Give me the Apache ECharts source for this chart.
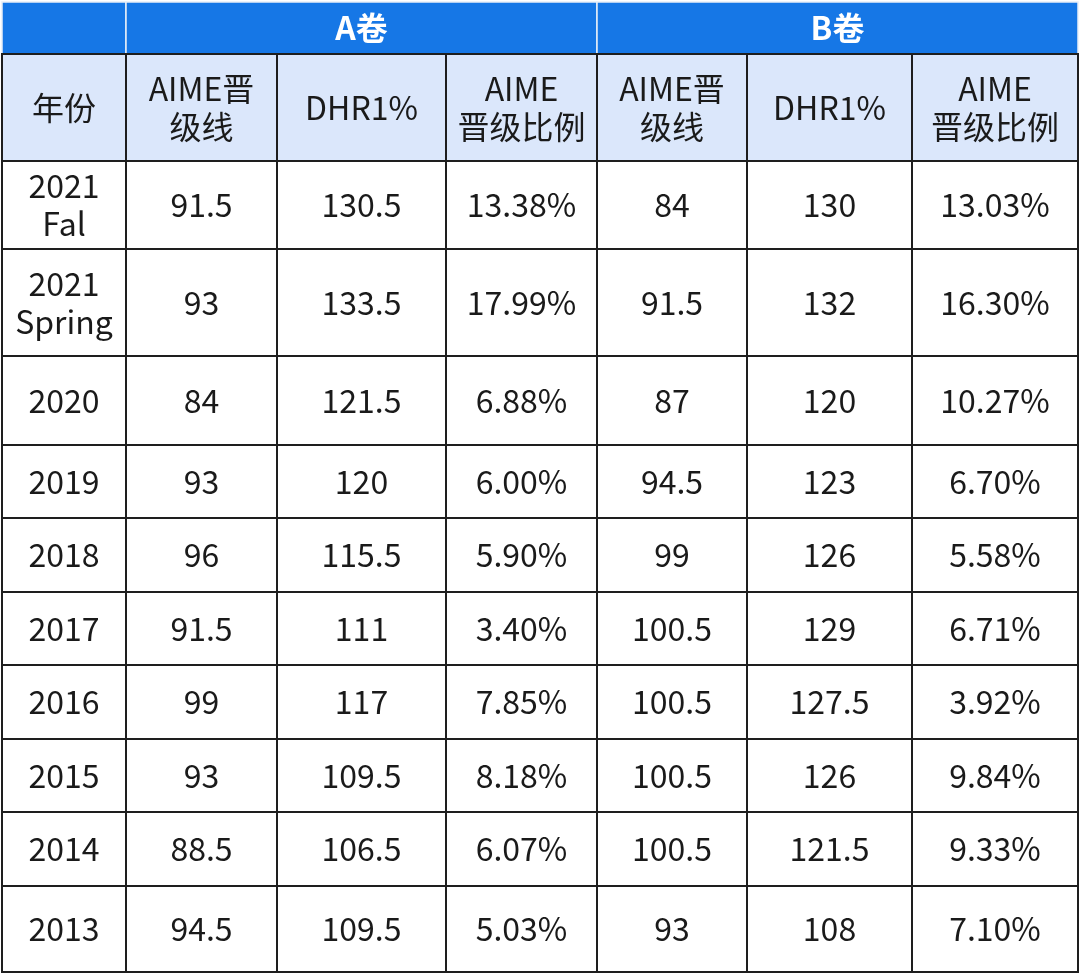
<!DOCTYPE html>
<html><head><meta charset="utf-8">
<script src="https://cdn.jsdelivr.net/npm/echarts@6/dist/echarts.min.js"></script>
<style>html,body{margin:0;padding:0;background:#fff}#c{width:1080px;height:976px}</style>
</head><body><div id="c"></div>
<script>
const groups = ['A卷', 'B卷'];
const headers = ['年份', 'AIME晋\n级线', 'DHR1%', 'AIME\n晋级比例', 'AIME晋\n级线', 'DHR1%', 'AIME\n晋级比例'];
const years = ['2021\nFal', '2021\nSpring', '2020', '2019', '2018', '2017', '2016', '2015', '2014', '2013'];
const aCut = ['91.5', '93', '84', '93', '96', '91.5', '99', '93', '88.5', '94.5'];
const aDhr = ['130.5', '133.5', '121.5', '120', '115.5', '111', '117', '109.5', '106.5', '109.5'];
const aPct = ['13.38%', '17.99%', '6.88%', '6.00%', '5.90%', '3.40%', '7.85%', '8.18%', '6.07%', '5.03%'];
const bCut = ['84', '91.5', '87', '94.5', '99', '100.5', '100.5', '100.5', '100.5', '93'];
const bDhr = ['130', '132', '120', '123', '126', '129', '127.5', '126', '121.5', '108'];
const bPct = ['13.03%', '16.30%', '10.27%', '6.70%', '5.58%', '6.71%', '3.92%', '9.84%', '9.33%', '7.10%'];

// layout (pixel grid lines)
const colX = [2, 126, 277, 446, 597, 747, 912, 1078];
const rowY = [2, 54, 161, 249, 356, 445, 518, 592, 665, 739, 812, 886, 972];

const cells = [];
cells.push({value:[0, 1, 0, ''], kind:'g'});
cells.push({value:[1, 4, 0, groups[0]], kind:'g'});
cells.push({value:[4, 7, 0, groups[1]], kind:'g'});
headers.forEach((h, i) => cells.push({value:[i, i + 1, 1, h], kind:'h'}));
const cols = [years, aCut, aDhr, aPct, bCut, bDhr, bPct];
years.forEach((_, r) => cols.forEach((c, i) => cells.push({value:[i, i + 1, r + 2, c[r]], kind:'b'})));

const chart = echarts.init(document.getElementById('c'));
chart.setOption({
  animation:false,
  grid:{left:0, right:0, top:0, bottom:0},
  xAxis:{type:'value', min:0, max:1080, show:false},
  yAxis:{type:'value', min:0, max:976, inverse:true, show:false},
  series:[{
    type:'custom',
    data:cells,
    renderItem:(params, api) => {
      const d = cells[params.dataIndex];
      const [c0, c1, r, t] = d.value;
      const p0 = api.coord([colX[c0], rowY[r]]);
      const p1 = api.coord([colX[c1], rowY[r + 1]]);
      const g = d.kind === 'g';
      const fill = g ? '#1677e6' : d.kind === 'h' ? '#dbe7fb' : '#ffffff';
      return {type:'group', children:[
        {type:'rect', shape:{x:p0[0], y:p0[1], width:p1[0]-p0[0], height:p1[1]-p0[1]},
         style:{fill:fill, stroke:g ? '#e8eef8' : '#1e1e1e', lineWidth:g ? 1.5 : 2}},
        {type:'text', style:{x:(p0[0]+p1[0])/2, y:(p0[1]+p1[1])/2, text:t, align:'center', verticalAlign:'middle',
          fill:g ? '#ffffff' : '#1a1a1a', fontWeight:g ? 'bold' : 'normal',
          fontSize:32, fontFamily:'"Noto Sans CJK SC"', lineHeight:38}}
      ]};
    }
  }]
});
</script></body></html>
